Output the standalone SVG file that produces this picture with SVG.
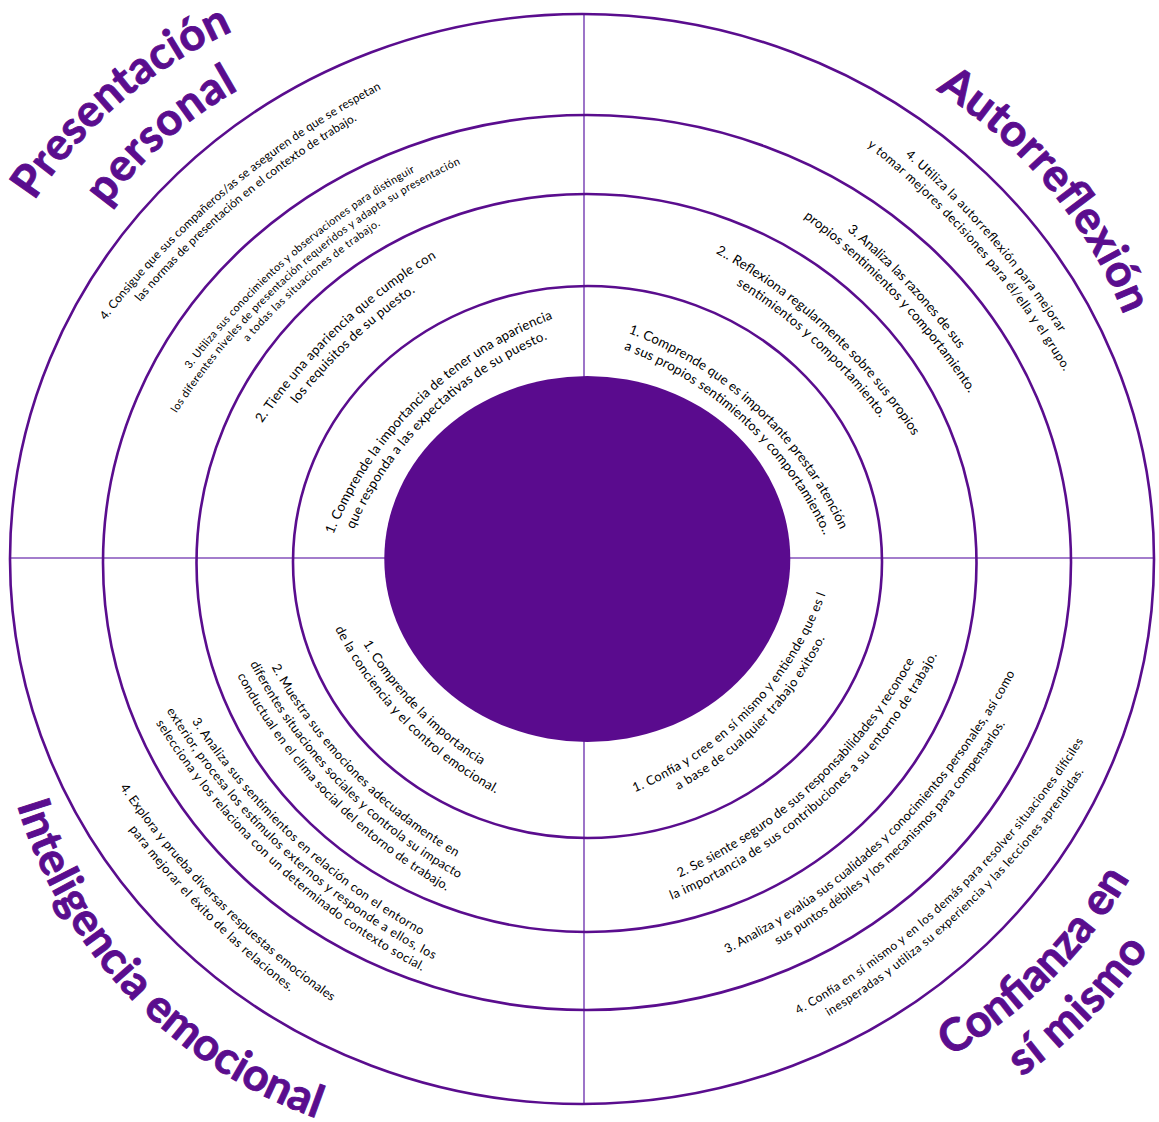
<svg xmlns="http://www.w3.org/2000/svg" width="1159" height="1122" viewBox="0 0 1159 1122">
<style>
.ring{fill:none;stroke:#5A0D8E;stroke-width:2.6}
.axis{stroke:#8452BB;stroke-width:1.6}
.body{font-family:Lato,"Liberation Sans",sans-serif;fill:#000;text-anchor:middle}
.head{font-family:Lato,"Liberation Sans",sans-serif;font-weight:700;fill:#5A0D8E;stroke:#5A0D8E;stroke-width:0.9;text-anchor:middle;font-size:45px}
</style>
<defs>
<path id="pp1a" d="M-371.3,288.5 A384.4,384.4 0 0 1 371.3,288.5"/>
<path id="pp1b" d="M-354.9,292.9 A367.4,367.4 0 0 1 354.9,292.9"/>
<path id="pp2a" d="M-543.2,420.4 A562.4,562.4 0 0 1 543.2,420.4"/>
<path id="pp2b" d="M-526.8,424.8 A545.4,545.4 0 0 1 526.8,424.8"/>
<path id="pp3a" d="M-682,526.3 A706.1,706.1 0 0 1 682,526.3"/>
<path id="pp3b" d="M-668.5,529.9 A692.1,692.1 0 0 1 668.5,529.9"/>
<path id="pp3c" d="M-655,533.5 A678.1,678.1 0 0 1 655,533.5"/>
<path id="pp4a" d="M-822.8,634.6 A851.8,851.8 0 0 1 822.8,634.6"/>
<path id="pp4b" d="M-807.8,638.6 A836.3,836.3 0 0 1 807.8,638.6"/>
<path id="ar1a" d="M-363.6,282.6 A376.4,376.4 0 0 1 363.6,282.6"/>
<path id="ar1b" d="M-347.2,287 A359.4,359.4 0 0 1 347.2,287"/>
<path id="ar2a" d="M-525.8,407.1 A544.4,544.4 0 0 1 525.8,407.1"/>
<path id="ar2b" d="M-509.4,411.5 A527.4,527.4 0 0 1 509.4,411.5"/>
<path id="ar3a" d="M-677.5,523.5 A701.4,701.4 0 0 1 677.5,523.5"/>
<path id="ar3b" d="M-661.1,527.9 A684.4,684.4 0 0 1 661.1,527.9"/>
<path id="ar4a" d="M-822.6,634.6 A851.6,851.6 0 0 1 822.6,634.6"/>
<path id="ar4b" d="M-806.2,639 A834.6,834.6 0 0 1 806.2,639"/>
<path id="ie1a" d="M-355.9,-269.6 A368.5,368.5 0 0 0 355.9,-269.6"/>
<path id="ie1b" d="M-372.4,-265.2 A385.5,385.5 0 0 0 372.4,-265.2"/>
<path id="ie2a" d="M-492,-374.2 A509.4,509.4 0 0 0 492,-374.2"/>
<path id="ie2b" d="M-508.5,-369.8 A526.4,526.4 0 0 0 508.5,-369.8"/>
<path id="ie2c" d="M-524.9,-365.4 A543.4,543.4 0 0 0 524.9,-365.4"/>
<path id="ie3a" d="M-636.9,-485.3 A659.4,659.4 0 0 0 636.9,-485.3"/>
<path id="ie3b" d="M-651.9,-481.3 A674.9,674.9 0 0 0 651.9,-481.3"/>
<path id="ie3c" d="M-666.9,-477.3 A690.4,690.4 0 0 0 666.9,-477.3"/>
<path id="ie4a" d="M-805,-614.3 A833.4,833.4 0 0 0 805,-614.3"/>
<path id="ie4b" d="M-821.4,-609.9 A850.4,850.4 0 0 0 821.4,-609.9"/>
<path id="cm1a" d="M-331.8,-251.1 A343.5,343.5 0 0 0 331.8,-251.1"/>
<path id="cm1b" d="M-348.2,-246.7 A360.5,360.5 0 0 0 348.2,-246.7"/>
<path id="cm2a" d="M-492.1,-374.1 A509.5,509.5 0 0 0 492.1,-374.1"/>
<path id="cm2b" d="M-508.6,-369.7 A526.5,526.5 0 0 0 508.6,-369.7"/>
<path id="cm3a" d="M-636.9,-485.3 A659.4,659.4 0 0 0 636.9,-485.3"/>
<path id="cm3b" d="M-653.3,-480.9 A676.4,676.4 0 0 0 653.3,-480.9"/>
<path id="cm4a" d="M-788.4,-601.8 A816.2,816.2 0 0 0 788.4,-601.8"/>
<path id="cm4b" d="M-804.8,-597.4 A833.2,833.2 0 0 0 804.8,-597.4"/>
<path id="hpp1" d="M-450.6,359.3 A466.5,466.5 0 0 1 450.6,359.3"/>
<path id="hpp2" d="M-397.5,318.5 A411.5,411.5 0 0 1 397.5,318.5"/>
<path id="har" d="M-450.6,359.3 A466.5,466.5 0 0 1 450.6,359.3"/>
<path id="hie" d="M-462.2,-341.2 A478.5,478.5 0 0 0 462.2,-341.2"/>
<path id="hcm1" d="M-476.7,-352.3 A493.5,493.5 0 0 0 476.7,-352.3"/>
<path id="hcm2" d="M-529.8,-393 A548.5,548.5 0 0 0 529.8,-393"/>
</defs>

<g id="axes">
<line class="axis" x1="584" y1="14" x2="584" y2="1104"/>
<line class="axis" x1="10" y1="558" x2="1154" y2="558"/>
</g>
<g id="rings">
<ellipse class="ring" cx="582" cy="559" rx="572" ry="545"/>
<ellipse class="ring" cx="587" cy="562.5" rx="484" ry="447.5"/>
<ellipse class="ring" cx="586.5" cy="563" rx="390" ry="369"/>
<ellipse class="ring" cx="587.5" cy="562" rx="294.5" ry="276"/>
</g>
<g id="center">
<ellipse cx="587.3" cy="559" rx="203" ry="183" fill="#5A0B8E"/>
</g>

<g id="heading-presentacion" class="head">
<g transform="translate(112.5 91.5) rotate(-40.5)"><text><textPath href="#hpp1" startOffset="50%" textLength="265">Presentación</textPath></text></g>
<g transform="translate(157.5 131) rotate(-41.6)"><text><textPath href="#hpp2" startOffset="50%" textLength="178">personal</textPath></text></g>
</g>
<g id="heading-autorreflexion" class="head" transform="translate(1058.5 179) rotate(50.2)">
<text><textPath href="#har" startOffset="50%" textLength="298">Autorreflexión</textPath></text>
</g>
<g id="heading-inteligencia" class="head" transform="translate(139 988) rotate(46.3)">
<text><textPath href="#hie" startOffset="50%" textLength="450">Inteligencia emocional</textPath></text>
</g>
<g id="heading-confianza" class="head">
<g transform="translate(1042 969.6) rotate(-44.7)"><text><textPath href="#hcm1" startOffset="50%" textLength="256">Confianza en</textPath></text></g>
<g transform="translate(1081 1009) rotate(-45)"><text><textPath href="#hcm2" startOffset="50%" textLength="180.5">sí mismo</textPath></text></g>
</g>

<g id="pp-1" class="body" font-size="13.3" transform="translate(418 401) rotate(-44.5)">
<text><textPath href="#pp1a" startOffset="50%" textLength="317">1. Comprende la importancia de tener una apariencia</textPath></text>
<text><textPath href="#pp1b" startOffset="50%" textLength="278.5">que responda a las expectativas de su puesto.</textPath></text>
</g>
<g id="pp-2" class="body" font-size="13.2" transform="translate(337.8 328.4) rotate(-43.5)">
<text><textPath href="#pp2a" startOffset="50%" textLength="242.5">2. Tiene una apariencia que cumple con</textPath></text>
<text><textPath href="#pp2b" startOffset="50%" textLength="164">los requisitos de su puesto.</textPath></text>
</g>
<g id="pp-3" class="body" font-size="10.9" transform="translate(290 256) rotate(-41.3)">
<text><textPath href="#pp3a" startOffset="50%" textLength="302">3. Utiliza sus conocimientos y observaciones para distinguir</textPath></text>
<text><textPath href="#pp3b" startOffset="50%" textLength="383">los diferentes niveles de presentación requeridos y adapta su presentación</textPath></text>
<text><textPath href="#pp3c" startOffset="50%" textLength="177.6">a todas las situaciones de trabajo.</textPath></text>
</g>
<g id="pp-4" class="body" font-size="11.9" transform="translate(229 187.5) rotate(-40)">
<text><textPath href="#pp4a" startOffset="50%" textLength="363">4. Consigue que sus compañeros/as se aseguren de que se respetan</textPath></text>
<text><textPath href="#pp4b" startOffset="50%" textLength="284.6">las normas de presentación en el contexto de trabajo.</textPath></text>
</g>

<g id="ar-1" class="body" font-size="13.4" transform="translate(756.2 407.6) rotate(42.9)">
<text><textPath href="#ar1a" startOffset="50%" textLength="296.7">1. Comprende que es importante prestar atención</textPath></text>
<text><textPath href="#ar1b" startOffset="50%" textLength="280.3">a sus propios sentimientos y comportamiento..</textPath></text>
</g>
<g id="ar-2" class="body" font-size="13.3" transform="translate(828.3 329.4) rotate(42.8)">
<text><textPath href="#ar2a" startOffset="50%" textLength="272">2.. Reflexiona regularmente sobre sus propios</textPath></text>
<text><textPath href="#ar2b" startOffset="50%" textLength="197.5">sentimientos y comportamiento.</textPath></text>
</g>
<g id="ar-3" class="body" font-size="13.4" transform="translate(909 284) rotate(46.7)">
<text><textPath href="#ar3a" startOffset="50%" textLength="163.4">3. Analiza las razones de sus</textPath></text>
<text><textPath href="#ar3b" startOffset="50%" textLength="242.8">propios sentimientos y comportamiento.</textPath></text>
</g>
<g id="ar-4" class="body" font-size="12.6" transform="translate(990.9 236.5) rotate(48.9)">
<text><textPath href="#ar4a" startOffset="50%" textLength="236">4. Utiliza la autorreflexión para mejorar</textPath></text>
<text><textPath href="#ar4b" startOffset="50%" textLength="301.4">y tomar mejores decisiones para él/ella y el grupo.</textPath></text>
</g>

<g id="ie-1" class="body" font-size="13" transform="translate(417.5 708.9) rotate(45.7)">
<text><textPath href="#ie1a" startOffset="50%" textLength="171.3">1. Comprende la importancia</textPath></text>
<text><textPath href="#ie1b" startOffset="50%" textLength="233.7">de la conciencia y el control emocional.</textPath></text>
</g>
<g id="ie-2" class="body" font-size="12.7" transform="translate(353.5 772) rotate(45.8)">
<text><textPath href="#ie2a" startOffset="50%" textLength="268">2. Muestra sus emociones adecuadamente en</textPath></text>
<text><textPath href="#ie2b" startOffset="50%" textLength="304">diferentes situaciones sociales y controla su impacto</textPath></text>
<text><textPath href="#ie2c" startOffset="50%" textLength="304.1">conductual en el clima social del entorno de trabajo.</textPath></text>
</g>
<g id="ie-3" class="body" font-size="12.5" transform="translate(295.8 839.6) rotate(43)">
<text><textPath href="#ie3a" startOffset="50%" textLength="316.7">3. Analiza sus sentimientos en relación con el entorno</textPath></text>
<text><textPath href="#ie3b" startOffset="50%" textLength="369.5">exterior, procesa los estímulos externos y responde a ellos, los</textPath></text>
<text><textPath href="#ie3c" startOffset="50%" textLength="368.2">selecciona y los relaciona con un determinado contexto social.</textPath></text>
</g>
<g id="ie-4" class="body" font-size="12.6" transform="translate(218.4 901.6) rotate(45.3)">
<text><textPath href="#ie4a" startOffset="50%" textLength="302.7">4. Explora y prueba diversas respuestas emocionales</textPath></text>
<text><textPath href="#ie4b" startOffset="50%" textLength="229.6">para mejorar el éxito de las relaciones.</textPath></text>
</g>

<g id="cm-1" class="body" font-size="12.8" transform="translate(748.3 710.8) rotate(-46)">
<text><textPath href="#cm1a" startOffset="50%" textLength="282.9">1. Confía y cree en sí mismo y entiende que es l</textPath></text>
<text><textPath href="#cm1b" startOffset="50%" textLength="214.4">a base de cualquier trabajo exitoso.</textPath></text>
</g>
<g id="cm-2" class="body" font-size="12.9" transform="translate(812 785.6) rotate(-42.7)">
<text><textPath href="#cm2a" startOffset="50%" textLength="325">2. Se siente seguro de sus responsabilidades y reconoce</textPath></text>
<text><textPath href="#cm2b" startOffset="50%" textLength="368.6">la importancia de sus contribuciones a su entorno de trabajo.</textPath></text>
</g>
<g id="cm-3" class="body" font-size="12.6" transform="translate(890.5 833.4) rotate(-44.2)">
<text><textPath href="#cm3a" startOffset="50%" textLength="408.3">3. Analiza y evalúa sus cualidades y conocimientos personales, así como</textPath></text>
<text><textPath href="#cm3b" startOffset="50%" textLength="320.4">sus puntos débiles y los mecanismos para compensarlos.</textPath></text>
</g>
<g id="cm-4" class="body" font-size="12" transform="translate(955.5 893) rotate(-43.8)">
<text><textPath href="#cm4a" startOffset="50%" textLength="399.1">4. Confía en sí mismo y en los demás para resolver situaciones difíciles</textPath></text>
<text><textPath href="#cm4b" startOffset="50%" textLength="356.5">inesperadas y utiliza su experiencia y las lecciones aprendidas.</textPath></text>
</g>
</svg>
